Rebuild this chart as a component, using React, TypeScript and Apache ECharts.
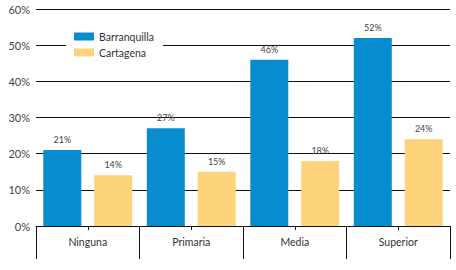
import React, { useEffect, useRef } from "react";
import * as echarts from "echarts";

const categories = ["Ninguna", "Primaria", "Media", "Superior"];
const barranquilla = [21, 27, 46, 52];
const cartagena = [14, 15, 18, 24];
const seriesNames = ["Barranquilla", "Cartagena"];

export default function App() {
  const ref = useRef<HTMLDivElement>(null);
  useEffect(() => {
    if (!ref.current) return;
    const chart = echarts.init(ref.current, null, { renderer: "svg" });
    const font = "Lato, 'Open Sans', sans-serif";
    const labelStyle = {
      show: true,
      position: "top" as const,
      distance: 6,
      fontSize: 9,
      color: "#444",
      fontFamily: font,
      formatter: "{c}%",
    };
    chart.setOption({
      animation: false,
      backgroundColor: "#fff",
      grid: { left: 36, right: 6, top: 9, bottom: 44, containLabel: false },
      legend: {
        orient: "vertical",
        left: 66,
        top: 26,
        padding: [5, 9, 5, 8],
        backgroundColor: "#fff",
        itemWidth: 20,
        itemHeight: 8,
        itemGap: 5,
        icon: "rect",
        data: seriesNames,
        textStyle: { fontSize: 10.5, color: "#333", fontFamily: font },
      },
      xAxis: [
        {
          type: "category",
          data: categories,
          axisLine: { show: true, lineStyle: { color: "#111", width: 1 } },
          axisTick: { show: true, length: 33, lineStyle: { color: "#111", width: 1 } },
          axisLabel: { margin: 10, fontSize: 10.5, color: "#333", fontFamily: font },
        },
        {
          type: "category",
          data: categories,
          position: "bottom",
          axisLine: { show: false },
          axisTick: { show: true, alignWithLabel: true, length: 4, lineStyle: { color: "#111", width: 1 } },
          axisLabel: { show: false },
        },
      ],
      yAxis: {
        type: "value",
        min: 0,
        max: 60,
        interval: 10,
        axisLine: { show: false },
        axisTick: { show: false },
        splitLine: { show: true, lineStyle: { color: "#111", width: 1 } },
        axisLabel: { formatter: "{value}%", fontSize: 11, color: "#444", fontFamily: font, margin: 6 },
      },
      series: [
        {
          name: seriesNames[0],
          type: "bar",
          data: barranquilla,
          barWidth: 38,
          barGap: "34%",
          itemStyle: { color: "#078dcf" },
          label: labelStyle,
        },
        {
          name: seriesNames[1],
          type: "bar",
          data: cartagena,
          barWidth: 38,
          itemStyle: { color: "#fdd37c" },
          label: labelStyle,
        },
      ],
    });
    return () => chart.dispose();
  }, []);
  return (
    <div
      ref={ref}
      style={{ position: "fixed", left: 0, top: 0, width: 456, height: 270 }}
    />
  );
}
